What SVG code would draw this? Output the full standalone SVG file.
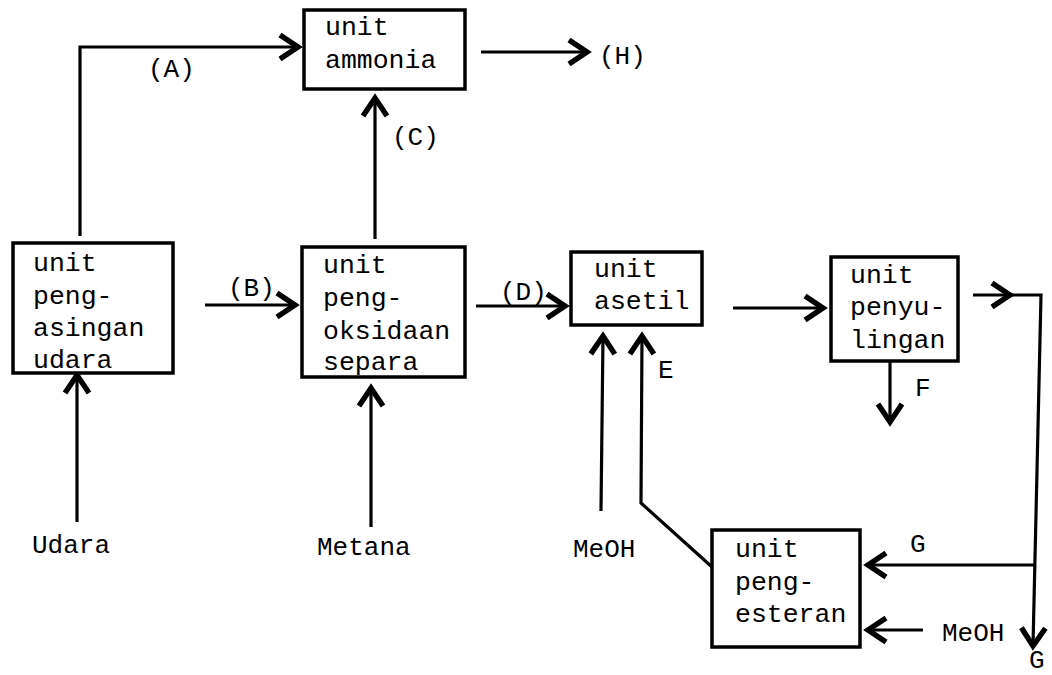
<svg xmlns="http://www.w3.org/2000/svg" width="1052" height="675" viewBox="0 0 1052 675">
<style>
  .box { fill: #fff; stroke: #000; stroke-width: 3.5; }
  .t { font-family: "Liberation Mono", "DejaVu Sans Mono", monospace; font-size: 26.5px; fill: #000; }
  .lbl { font-family: "Liberation Mono", "DejaVu Sans Mono", monospace; font-size: 26px; fill: #000; }
  .c { fill: none; stroke: #000; stroke-width: 3.2; stroke-linejoin: miter; }
</style>
<defs>
  <marker id="arr" markerUnits="userSpaceOnUse" markerWidth="30" markerHeight="30" refX="0" refY="0" viewBox="-16 -10 20 20" orient="auto" overflow="visible">
    <path d="M-12,-8 L0,0 L-12,8" fill="none" stroke="#000" stroke-width="3.6" stroke-linejoin="miter"/>
  </marker>
</defs>
<rect width="1052" height="675" fill="#fff"/>

<g id="connectors">
  <path class="c" d="M80,236 L80,47 L298,47" marker-end="url(#arr)"/>
  <path class="c" d="M481,52 L587,52" marker-end="url(#arr)"/>
  <path class="c" d="M375,239 L375,98" marker-end="url(#arr)"/>
  <path class="c" d="M205,305 L295,305" marker-end="url(#arr)"/>
  <path class="c" d="M476,306 L565,306" marker-end="url(#arr)"/>
  <path class="c" d="M733,308 L823,308" marker-end="url(#arr)"/>
  <path class="c" d="M973,295 L1010,295" marker-end="url(#arr)"/>
  <path class="c" d="M1006,295 L1041,295 L1033,646" marker-end="url(#arr)"/>
  <path class="c" d="M890,361 L890,422" marker-end="url(#arr)"/>
  <path class="c" d="M1035,565 L868,565" marker-end="url(#arr)"/>
  <path class="c" d="M923,630 L868,630" marker-end="url(#arr)"/>
  <path class="c" d="M601,511 L603,336" marker-end="url(#arr)"/>
  <path class="c" d="M712,567 L641,503 L642,336" marker-end="url(#arr)"/>
  <path class="c" d="M77,522 L77,375" marker-end="url(#arr)"/>
  <path class="c" d="M371,527 L371,388" marker-end="url(#arr)"/>
</g>

<g id="labels">
  <text class="lbl" x="148" y="77">(A)</text>
  <text class="lbl" x="228" y="296">(B)</text>
  <text class="lbl" x="392" y="145">(C)</text>
  <text class="lbl" x="500" y="300">(D)</text>
  <text class="lbl" x="599" y="64">(H)</text>
  <text class="lbl" x="658" y="378">E</text>
  <text class="lbl" x="915" y="396">F</text>
  <text class="lbl" x="910" y="552">G</text>
  <text class="lbl" x="1029" y="668">G</text>
  <text class="lbl" x="32" y="553">Udara</text>
  <text class="lbl" x="317" y="555">Metana</text>
  <text class="lbl" x="573" y="557">MeOH</text>
  <text class="lbl" x="942" y="641">MeOH</text>
</g>

<g id="node-ammonia">
  <rect class="box" x="304" y="10" width="161" height="79"/>
  <text class="t" x="325" y="35">unit</text>
  <text class="t" x="325" y="68">ammonia</text>
</g>

<g id="node-pengasingan">
  <rect class="box" x="13" y="243" width="160" height="130"/>
  <text class="t" x="33" y="271">unit</text>
  <text class="t" x="33" y="304">peng-</text>
  <text class="t" x="33" y="336">asingan</text>
  <text class="t" x="33" y="368">udara</text>
</g>

<g id="node-pengoksidaan">
  <rect class="box" x="302" y="247" width="163" height="130"/>
  <text class="t" x="323" y="273">unit</text>
  <text class="t" x="323" y="306">peng-</text>
  <text class="t" x="323" y="339">oksidaan</text>
  <text class="t" x="323" y="370">separa</text>
</g>

<g id="node-asetil">
  <rect class="box" x="571" y="252" width="131" height="73"/>
  <text class="t" x="594" y="277">unit</text>
  <text class="t" x="594" y="309">asetil</text>
</g>

<g id="node-penyulingan">
  <rect class="box" x="831" y="257" width="127" height="104"/>
  <text class="t" x="850" y="283">unit</text>
  <text class="t" x="850" y="315">penyu-</text>
  <text class="t" x="850" y="348">lingan</text>
</g>

<g id="node-pengesteran">
  <rect class="box" x="712" y="530" width="148" height="117"/>
  <text class="t" x="735" y="557">unit</text>
  <text class="t" x="735" y="590">peng-</text>
  <text class="t" x="735" y="622">esteran</text>
</g>
</svg>
